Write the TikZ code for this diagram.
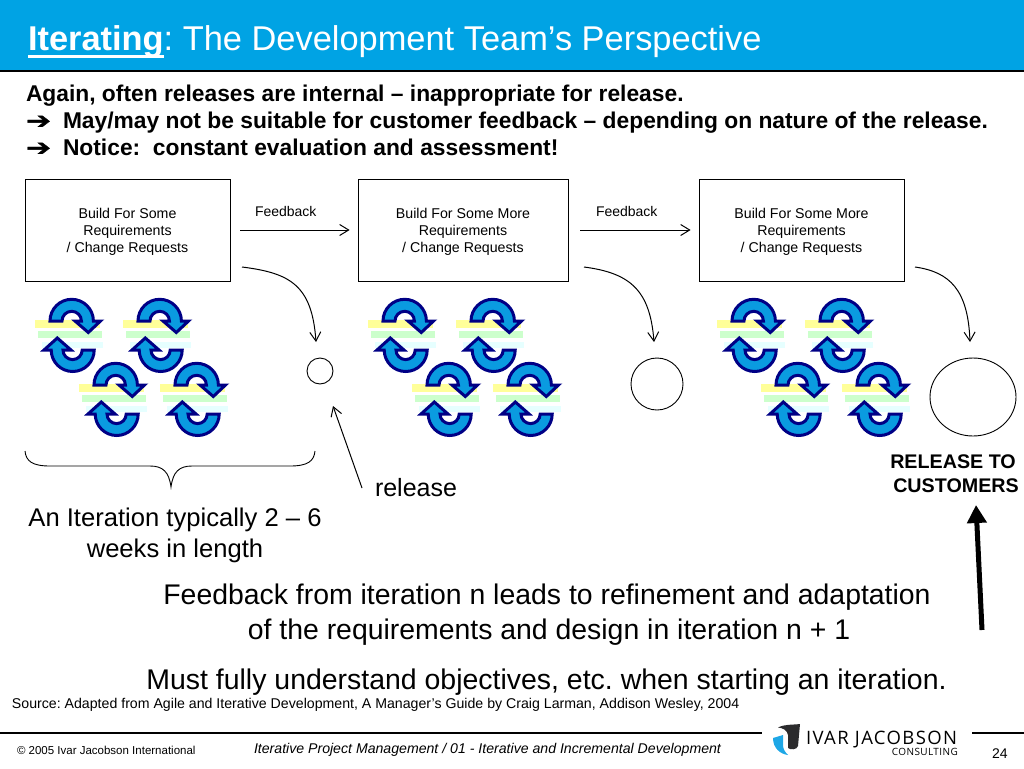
\documentclass[tikz,border=0pt]{standalone}
\usepackage{fontspec}
\setmainfont{Liberation Sans}
\newfontfamily\dejavu{DejaVu Sans}
\newfontfamily\arrowfont[FakeStretch=1.3,FakeBold=1.5]{DejaVu Sans}
\newfontfamily\logofont{Open Sans}
\usetikzlibrary{arrows.meta,shapes.geometric}
\definecolor{headblue}{HTML}{00A3E4}
\definecolor{navyline}{HTML}{000085}
\definecolor{arrowfill}{HTML}{0A9BE0}
\definecolor{stripeyellow}{HTML}{FFFF99}
\definecolor{stripegreen}{HTML}{CCFFCC}
\definecolor{stripecyan}{HTML}{E6FFFF}
\definecolor{logoblue}{HTML}{1EA7E6}
\definecolor{logodark}{HTML}{2B2B2D}
\newcommand{\fs}[1]{\fontsize{#1}{#1}\selectfont}
\newcommand{\thickul}[1]{\setbox0\hbox{#1}\rlap{\rule[-7pt]{\wd0}{3pt}}\box0 }
\newcommand{\toparrow}{\rule{0pt}{14pt}}
\tikzset{
  x=1pt,y=-1pt,
  txt/.style={inner sep=0pt,outer sep=0pt,anchor=base west},
  ctxt/.style={inner sep=0pt,outer sep=0pt,anchor=base,align=center},
  buildbox/.style={draw=black,line width=0.8pt,fill=white,align=center,inner sep=0pt,font=\fs{14.2}},
  thinarrow/.style={draw=black,line width=1pt,-{Straight Barb[length=9pt,width=11pt]}},
  ring/.style={draw=black,line width=0.9pt,fill=white,inner sep=0pt},
  rule/.style={draw=black,line width=2pt},
  pics/iter/.style={code={
    \fill[stripeyellow] (-34,-15) rectangle (31,-7);
    \fill[stripegreen] (-31,-4) rectangle (33,3);
    \fill[stripecyan] (-27,7) rectangle (34,13);
    \path[fill=arrowfill,draw=navyline,line width=3pt,line join=miter]
      (-19,-14) arc[start angle=180,end angle=0,x radius=21.7pt,y radius=21.7pt]
      -- (31.5,-14) -- (19.3,-2.5) -- (6,-14) -- (12.4,-14)
      arc[start angle=0,end angle=180,x radius=9.7pt,y radius=9.7pt] -- cycle;
    \path[fill=arrowfill,draw=navyline,line width=3pt,line join=miter]
      (25.2,15) arc[start angle=0,end angle=-180,x radius=21.5pt,y radius=21.5pt]
      -- (-25,15) -- (-11.7,3) -- (2,15) -- (-6,15)
      arc[start angle=-180,end angle=0,x radius=9.6pt,y radius=9.6pt] -- cycle;
  }}
}
\begin{document}
\frenchspacing
\begin{tikzpicture}
\useasboundingbox (0,0) rectangle (1024,768);
\fill[headblue] (0,0) rectangle (1024,70);
\draw[black,line width=1.5pt] (0,71) -- (1024,71);
\node[txt,text=white] (title) at (28,51) {\fs{34.4}\thickul{\textbf{Iterating}}: The Development Team’s Perspective};
\node[txt] (l1) at (26,101) {\fs{22.8}\textbf{Again, often releases are internal – inappropriate for release.}};
\node[txt] (a2) at (26,128.5) {\fs{23}\arrowfont ➔};
\node[txt] (l2) at (63,128) {\fs{22.8}\textbf{May/may not be suitable for customer feedback – depending on nature of the release.}};
\node[txt] (a3) at (26,155.5) {\fs{23}\arrowfont ➔};
\node[txt] (l3) at (63,155) {\fs{22.8}\textbf{Notice:\ \ constant evaluation and assessment!}};

\node[buildbox,minimum width=205pt,minimum height=102pt] (b1) at (127.5,230) {\toparrow Build For Some\\[3pt]Requirements\\[3pt]/ Change Requests};
\node[buildbox,minimum width=210pt,minimum height=102pt] (b2) at (463,230) {\toparrow Build For Some More\\[3pt]Requirements\\[3pt]/ Change Requests};
\node[buildbox,minimum width=205pt,minimum height=102pt] (b3) at (801.5,230) {\toparrow Build For Some More\\[3pt]Requirements\\[3pt]/ Change Requests};
\node[txt] (f1) at (255,216) {\fs{14}Feedback};
\node[txt] (f2) at (596,216) {\fs{14}Feedback};
\draw[thinarrow,shorten <=10pt,shorten >=8pt] (b1.east) -- (b2.west);
\draw[thinarrow,shorten <=12pt,shorten >=8pt] (b2.east) -- (b3.west);

\foreach \dx in {0,333,682}{
  \pic at (69+\dx,335) {iter};
  \pic at (157+\dx,335) {iter};
  \pic at (113+\dx,399) {iter};
  \pic at (194+\dx,399) {iter};
}

\node[ring,circle,minimum size=26pt] (c1) at (320,371) {};
\node[ring,circle,minimum size=52pt] (c2) at (657,384) {};
\node[ring,ellipse,minimum width=86pt,minimum height=78pt] (c3) at (973,397) {};

\coordinate (s1) at (242,267);
\coordinate (e1) at (316,342);
\coordinate (s2) at (584,267);
\coordinate (e2) at (654,342);
\coordinate (s3) at (915,267);
\coordinate (e3) at (970,342);
\draw[thinarrow] (s1) .. controls (290,273) and (312,285) .. (e1);
\draw[thinarrow] (s2) .. controls (630,273) and (650,290) .. (e2);
\draw[thinarrow] (s3) .. controls (950,272) and (968,290) .. (e3);

\node[txt] (rel) at (375,496) {\fs{25}release};
\coordinate (rs) at (362,488);
\coordinate (re) at (333,406);
\draw[thinarrow] (rs) -- (re);

\draw[black,line width=0.9pt] (25,451) .. controls (26,461) and (32,466) .. (50,466)
  -- (150,466) .. controls (163,466) and (169,472) .. (171,487)
  .. controls (173,472) and (179,466) .. (192,466)
  -- (290,466) .. controls (308,466) and (314,461) .. (315,451);

\node[ctxt] (iter1) at (175,526) {\fs{25.6}An Iteration typically 2 – 6};
\node[ctxt] (iter2) at (175,557) {\fs{25.6}weeks in length};

\node[ctxt] (rc1) at (953,468) {\fs{19.7}\textbf{RELEASE TO}};
\node[ctxt] (rc2) at (956,492) {\fs{19.7}\textbf{CUSTOMERS}};
\coordinate (ts) at (982,630);
\coordinate (te) at (976,505);
\draw[black,line width=5pt,-{Triangle[length=18pt,width=19pt]}] (ts) -- (te);

\node[ctxt] (m1) at (547,604) {\fs{28.4}Feedback from iteration n leads to refinement and adaptation};
\node[ctxt] (m2) at (549,639) {\fs{28.4}of the requirements and design in iteration n + 1};
\node[ctxt] (m3) at (546.5,689) {\fs{28.45}Must fully understand objectives, etc. when starting an iteration.};
\node[txt] (src) at (12,708) {\fs{14.15}Source: Adapted from Agile and Iterative Development, A Manager’s Guide by Craig Larman, Addison Wesley, 2004};

\draw[rule] (0,733) -- (762,733);
\draw[rule] (972,733) -- (1024,733);
\node[txt] (copy) at (17,754) {\fs{11.5}© 2005 Ivar Jacobson International};
\node[txt] (foot) at (254,753) {\fs{14.12}\itshape Iterative Project Management / 01 - Iterative and Incremental Development};
\node[txt] (pg) at (992,758) {\fs{14}24};

% logo
\fill[logodark] (778,727.5) .. controls (785,724) and (792,725) .. (800,724) -- (798,746) .. controls (797,750) and (790,750) .. (788,748)
  -- (788,735) .. controls (787,730) and (783,728) .. (778,727.5) -- cycle;
\fill[logoblue] (773,738) -- (783,735) -- (783,745) .. controls (783,749) and (785,752) .. (788,755)
  .. controls (780,754) and (773,748) .. (773,738) -- cycle;
\node[txt] (logo1) at (806,744.5) {\fs{18.5}\logofont\addfontfeature{LetterSpace=7.5}IVAR JACOBSON};
\node[anchor=base east,inner sep=0pt] (logo2) at (958,755.5) {\fs{10}\logofont\addfontfeature{LetterSpace=4}CONSULTING};
\end{tikzpicture}
\end{document}
